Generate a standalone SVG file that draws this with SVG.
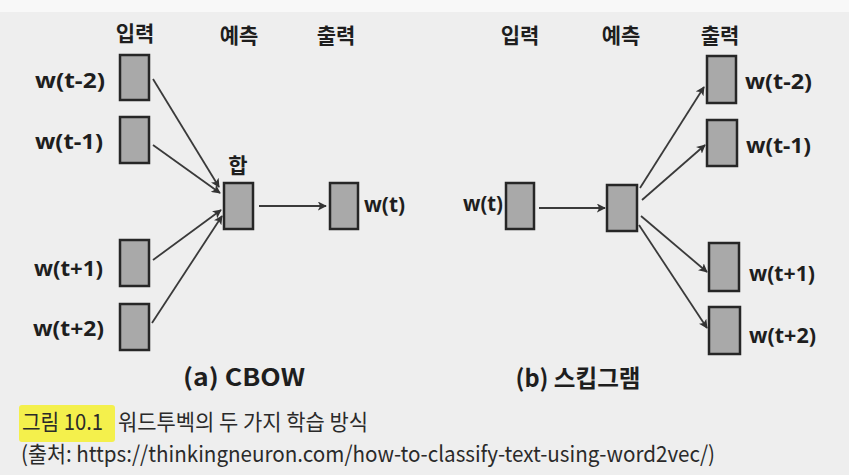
<svg xmlns="http://www.w3.org/2000/svg" width="849" height="475" viewBox="0 0 849 475">
  <defs>
    <marker id="arrow" viewBox="0 0 10 10" refX="9" refY="5" markerWidth="9" markerHeight="9" markerUnits="userSpaceOnUse" orient="auto">
      <path d="M0,0 L10,5 L0,10 L2.5,5 Z" fill="#333"/>
    </marker>
  </defs>
  <style>
    .box { fill: #a9a9a9; stroke: #262626; stroke-width: 2.5; }
    .edge { fill: none; stroke: #3a3a3a; stroke-width: 1.8; marker-end: url(#arrow); }
    .head { font-family: "Noto Sans CJK KR", "Noto Sans", sans-serif; font-weight: 700; font-size: 21px; fill: #1e1e1e; text-anchor: middle; }
    .word { font-family: "Noto Sans", "DejaVu Sans", sans-serif; font-weight: 700; font-size: 22px; fill: #1e1e1e; }
    .sub { font-family: "Noto Sans CJK KR", "Noto Sans", sans-serif; font-weight: 600; font-size: 24px; fill: #1e1e1e; text-anchor: middle; }
    .cap { font-family: "Noto Sans CJK KR", "Liberation Sans", sans-serif; font-size: 22px; fill: #2a2a2a; }
  </style>

  <!-- page -->
  <rect x="0" y="0" width="849" height="475" fill="#eeeeee"/>
  <rect x="0" y="0" width="849" height="12" fill="#f8f8f8"/>

  <!-- (a) CBOW -->
  <g id="cbow-headers">
    <text class="head" x="135" y="41">입력</text>
    <text class="head" x="239" y="43">예측</text>
    <text class="head" x="336" y="43">출력</text>
  </g>
  <g id="cbow-in-t-2">
    <rect class="box" x="120" y="55" width="29" height="45"/>
    <text class="word" x="35" y="88" textLength="70" lengthAdjust="spacingAndGlyphs">w(t-2)</text>
  </g>
  <g id="cbow-in-t-1">
    <rect class="box" x="120" y="117" width="29" height="46"/>
    <text class="word" x="35" y="149" textLength="68" lengthAdjust="spacingAndGlyphs">w(t-1)</text>
  </g>
  <g id="cbow-in-t+1">
    <rect class="box" x="120" y="240" width="29" height="46"/>
    <text class="word" x="34" y="276" textLength="69" lengthAdjust="spacingAndGlyphs">w(t+1)</text>
  </g>
  <g id="cbow-in-t+2">
    <rect class="box" x="120" y="304" width="29" height="46"/>
    <text class="word" x="33" y="336" textLength="71" lengthAdjust="spacingAndGlyphs">w(t+2)</text>
  </g>
  <g id="cbow-sum">
    <rect class="box" x="224" y="183" width="29" height="46"/>
    <text class="head" x="238" y="173">합</text>
  </g>
  <g id="cbow-out">
    <rect class="box" x="330" y="183" width="28" height="46"/>
    <text class="word" x="364" y="212" textLength="41" lengthAdjust="spacingAndGlyphs">w(t)</text>
  </g>
  <g id="cbow-title">
    <text class="sub" x="244" y="386" textLength="122" lengthAdjust="spacingAndGlyphs">(a) CBOW</text>
  </g>

  <!-- (b) skip-gram -->
  <g id="sg-headers">
    <text class="head" x="520" y="43">입력</text>
    <text class="head" x="621" y="43">예측</text>
    <text class="head" x="720" y="43">출력</text>
  </g>
  <g id="sg-in">
    <rect class="box" x="506" y="183" width="28" height="46"/>
    <text class="word" x="463" y="211" textLength="40" lengthAdjust="spacingAndGlyphs">w(t)</text>
  </g>
  <g id="sg-hidden">
    <rect class="box" x="607" y="185" width="30" height="46"/>
  </g>
  <g id="sg-out-t-2">
    <rect class="box" x="707" y="56" width="29" height="47"/>
    <text class="word" x="745" y="89" textLength="67" lengthAdjust="spacingAndGlyphs">w(t-2)</text>
  </g>
  <g id="sg-out-t-1">
    <rect class="box" x="707" y="120" width="30" height="46"/>
    <text class="word" x="746" y="153" textLength="65" lengthAdjust="spacingAndGlyphs">w(t-1)</text>
  </g>
  <g id="sg-out-t+1">
    <rect class="box" x="709" y="243" width="30" height="48"/>
    <text class="word" x="749" y="281" textLength="66" lengthAdjust="spacingAndGlyphs">w(t+1)</text>
  </g>
  <g id="sg-out-t+2">
    <rect class="box" x="709" y="307" width="31" height="47"/>
    <text class="word" x="749" y="343" textLength="67" lengthAdjust="spacingAndGlyphs">w(t+2)</text>
  </g>
  <g id="sg-title">
    <text class="sub" x="578" y="387" textLength="125" lengthAdjust="spacingAndGlyphs">(b) 스킵그램</text>
  </g>

  <!-- connectors -->
  <g id="connectors">
    <line class="edge" x1="153" y1="79" x2="219" y2="187"/>
    <line class="edge" x1="153" y1="145" x2="220" y2="193"/>
    <line class="edge" x1="153" y1="260" x2="221" y2="210"/>
    <line class="edge" x1="152" y1="323" x2="222" y2="216"/>
    <line class="edge" x1="259" y1="206" x2="326" y2="206"/>
    <line class="edge" x1="539" y1="208" x2="605" y2="208"/>
    <line class="edge" x1="640" y1="188" x2="704" y2="87"/>
    <line class="edge" x1="642" y1="200" x2="705" y2="145"/>
    <line class="edge" x1="641" y1="216" x2="707" y2="272"/>
    <line class="edge" x1="639" y1="225" x2="707" y2="328"/>
  </g>

  <!-- caption -->
  <g id="caption">
    <rect x="19" y="405" width="96" height="37" rx="3" fill="#f4f03a" opacity="0.9"/>
    <text class="cap" x="22" y="430" fill="#1a1a1a" textLength="81" lengthAdjust="spacingAndGlyphs">그림 10.1</text>
    <text class="cap" x="118" y="430" textLength="250" lengthAdjust="spacingAndGlyphs">워드투벡의 두 가지 학습 방식</text>
    <text class="cap" x="21" y="462" textLength="694" lengthAdjust="spacingAndGlyphs">(출처: https://thinkingneuron.com/how-to-classify-text-using-word2vec/)</text>
  </g>
</svg>
